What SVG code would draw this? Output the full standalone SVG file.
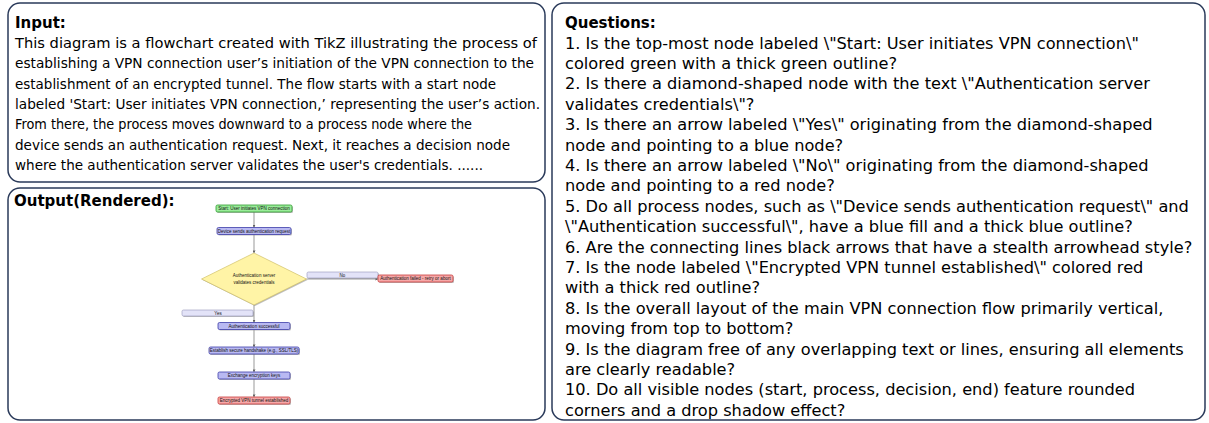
<svg xmlns="http://www.w3.org/2000/svg" width="1209" height="423" viewBox="0 0 1209 423">
<style>
.panel{fill:#fff;stroke:#2a3a5a;stroke-width:1.5}
.title{font-family:"DejaVu Sans",sans-serif;font-weight:bold;font-size:15px;fill:#000}
.body{font-family:"DejaVu Sans",sans-serif;font-size:14.2px;fill:#000}
.q{font-family:"DejaVu Sans",sans-serif;font-size:16.2px;fill:#000}
.nt{font-family:"Liberation Sans","DejaVu Sans",sans-serif;font-size:4.5px;fill:#111;text-anchor:middle;dominant-baseline:central}
.shadow{fill:#888;opacity:0.55}
.start{fill:#9aec9a;stroke:#2f9a2f;stroke-width:0.8}
.proc{fill:#b9b9f2;stroke:#3c3ca8;stroke-width:0.8}
.dec{fill:#fff4a6;stroke:#c9b95a;stroke-width:0.6}
.end{fill:#f6a8a8;stroke:#c83a3a;stroke-width:0.8}
.lab{fill:#e3e3f8;stroke:#9494b8;stroke-width:0.6}
.conn{stroke:#555;stroke-width:0.6;fill:none;marker-end:url(#stealth)}
</style>
<defs>
<marker id="stealth" viewBox="0 0 10 10" refX="10" refY="5" markerWidth="3" markerHeight="3" markerUnits="userSpaceOnUse" orient="auto">
<path d="M0,0 L10,5 L0,10 L3,5 Z" fill="#444"/>
</marker>
</defs>

<g id="input-panel">
<rect class="panel" x="8" y="3" width="537" height="179" rx="12"/>
<text class="title" x="15" y="28">Input:</text>
<text class="body" x="15" y="48" textLength="522" lengthAdjust="spacingAndGlyphs">This diagram is a flowchart created with TikZ illustrating the process of</text>
<text class="body" x="15" y="68.3" textLength="519" lengthAdjust="spacingAndGlyphs">establishing a VPN connection user’s initiation of the VPN connection to the</text>
<text class="body" x="15" y="88.6" textLength="481" lengthAdjust="spacingAndGlyphs">establishment of an encrypted tunnel. The flow starts with a start node</text>
<text class="body" x="15" y="108.9" textLength="525" lengthAdjust="spacingAndGlyphs">labeled 'Start: User initiates VPN connection,’ representing the user’s action.</text>
<text class="body" x="15" y="129.2" textLength="457" lengthAdjust="spacingAndGlyphs">From there, the process moves downward to a process node where the</text>
<text class="body" x="15" y="149.5" textLength="495" lengthAdjust="spacingAndGlyphs">device sends an authentication request. Next, it reaches a decision node</text>
<text class="body" x="15" y="169.8" textLength="468" lengthAdjust="spacingAndGlyphs">where the authentication server validates the user's credentials. ......</text>
</g>

<g id="output-panel">
<rect class="panel" x="8" y="188" width="537" height="232" rx="12"/>
<text class="title" x="14" y="206">Output(Rendered):</text>
</g>

<g id="questions-panel">
<rect class="panel" x="552" y="3" width="653" height="417" rx="12"/>
<text class="title" x="565" y="28">Questions:</text>
<text class="q" x="565" y="48.6">1. Is the top-most node labeled \"Start: User initiates VPN connection\"</text>
<text class="q" x="565" y="69">colored green with a thick green outline?</text>
<text class="q" x="565" y="89.4">2. Is there a diamond-shaped node with the text \"Authentication server</text>
<text class="q" x="565" y="109.8">validates credentials\"?</text>
<text class="q" x="565" y="130.2">3. Is there an arrow labeled \"Yes\" originating from the diamond-shaped</text>
<text class="q" x="565" y="150.6">node and pointing to a blue node?</text>
<text class="q" x="565" y="171">4. Is there an arrow labeled \"No\" originating from the diamond-shaped</text>
<text class="q" x="565" y="191.4">node and pointing to a red node?</text>
<text class="q" x="565" y="211.8">5. Do all process nodes, such as \"Device sends authentication request\" and</text>
<text class="q" x="565" y="232.2">\"Authentication successful\", have a blue fill and a thick blue outline?</text>
<text class="q" x="565" y="252.6">6. Are the connecting lines black arrows that have a stealth arrowhead style?</text>
<text class="q" x="565" y="273">7. Is the node labeled \"Encrypted VPN tunnel established\" colored red</text>
<text class="q" x="565" y="293.4">with a thick red outline?</text>
<text class="q" x="565" y="313.8">8. Is the overall layout of the main VPN connection flow primarily vertical,</text>
<text class="q" x="565" y="334.2">moving from top to bottom?</text>
<text class="q" x="565" y="354.6">9. Is the diagram free of any overlapping text or lines, ensuring all elements</text>
<text class="q" x="565" y="375">are clearly readable?</text>
<text class="q" x="565" y="395.4">10. Do all visible nodes (start, process, decision, end) feature rounded</text>
<text class="q" x="565" y="415.8">corners and a drop shadow effect?</text>
</g>

<g id="connectors">
<line class="conn" x1="254" y1="212" x2="254" y2="227.5"/>
<line class="conn" x1="254" y1="234.5" x2="254" y2="253"/>
<line class="conn" x1="306.5" y1="279" x2="378" y2="279"/>
<line class="conn" x1="254" y1="305" x2="254" y2="322.5"/>
<line class="conn" x1="254" y1="329.5" x2="254" y2="347"/>
<line class="conn" x1="254" y1="354" x2="254" y2="372"/>
<line class="conn" x1="254" y1="379" x2="254" y2="397"/>
</g>

<g id="start">
<rect class="shadow" x="217" y="206" width="76" height="7" rx="1.5"/>
<rect class="start" x="216" y="205" width="76" height="7" rx="1.5"/>
<text class="nt" x="254" y="208.5">Start: User initiates VPN connection</text>
</g>
<g id="device">
<rect class="shadow" x="218" y="228.5" width="74" height="7" rx="1.5"/>
<rect class="proc" x="217" y="227.5" width="74" height="7" rx="1.5"/>
<text class="nt" x="254" y="231">Device sends authentication request</text>
</g>
<g id="decision">
<path class="shadow" d="M255,254 L307.5,280 L255,306 L202.5,280 Z"/>
<path class="dec" d="M254,253 L306.5,279 L254,305 L201.5,279 Z" stroke-linejoin="round"/>
<text class="nt" x="254" y="275.5">Authentication server</text>
<text class="nt" x="254" y="282.5">validates credentials</text>
</g>
<g id="no-label">
<rect class="shadow" x="308" y="273" width="71" height="6" rx="1.5"/>
<rect class="lab" x="307" y="272" width="71" height="6" rx="1.5"/>
<text class="nt" x="342.5" y="275">No</text>
</g>
<g id="failed">
<rect class="shadow" x="379" y="276" width="75" height="7" rx="1.5"/>
<rect class="end" x="378" y="275" width="75" height="7" rx="1.5"/>
<text class="nt" x="415.5" y="278.5">Authentication failed - retry or abort</text>
</g>
<g id="yes-label">
<rect class="shadow" x="183" y="311" width="71" height="6" rx="1.5"/>
<rect class="lab" x="182" y="310" width="71" height="6" rx="1.5"/>
<text class="nt" x="218" y="313">Yes</text>
</g>
<g id="auth-success">
<rect class="shadow" x="219" y="323.5" width="72" height="7" rx="1.5"/>
<rect class="proc" x="218" y="322.5" width="72" height="7" rx="1.5"/>
<text class="nt" x="254" y="326">Authentication successful</text>
</g>
<g id="handshake">
<rect class="shadow" x="210" y="348" width="90" height="7" rx="1.5"/>
<rect class="proc" x="209" y="347" width="90" height="7" rx="1.5"/>
<text class="nt" x="254" y="350.5">Establish secure handshake (e.g., SSL/TLS)</text>
</g>
<g id="exchange">
<rect class="shadow" x="219" y="373" width="72" height="7" rx="1.5"/>
<rect class="proc" x="218" y="372" width="72" height="7" rx="1.5"/>
<text class="nt" x="254" y="375.5">Exchange encryption keys</text>
</g>
<g id="tunnel">
<rect class="shadow" x="219" y="398" width="72" height="7" rx="1.5"/>
<rect class="end" x="218" y="397" width="72" height="7" rx="1.5"/>
<text class="nt" x="254" y="400.5">Encrypted VPN tunnel established</text>
</g>
</svg>
